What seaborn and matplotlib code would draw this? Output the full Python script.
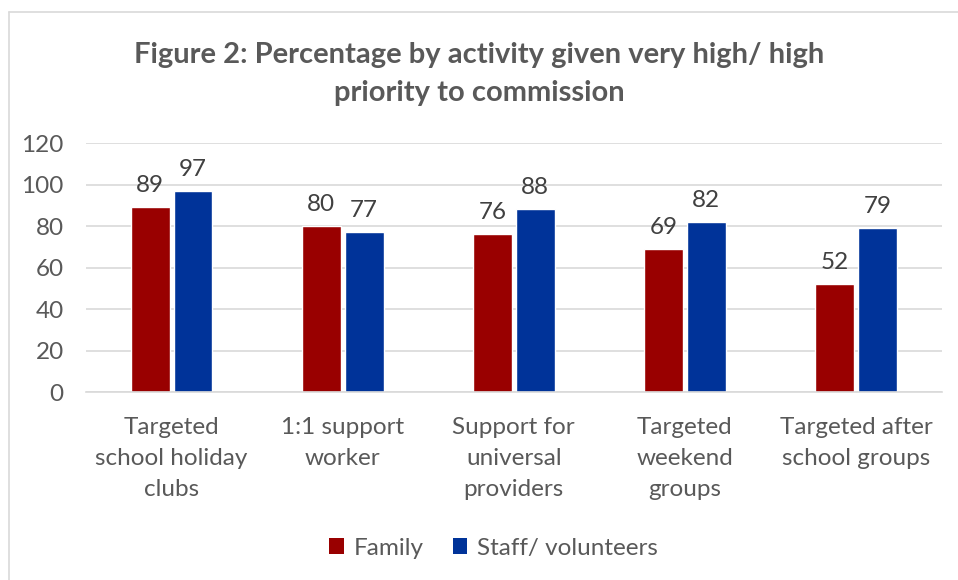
import matplotlib
matplotlib.use("Agg")
import matplotlib.pyplot as plt
from matplotlib.lines import Line2D
from matplotlib.patches import Patch
import seaborn as sns
import pandas as pd

categories = [
    "Targeted\nschool holiday\nclubs",
    "1:1 support\nworker",
    "Support for\nuniversal\nproviders",
    "Targeted\nweekend\ngroups",
    "Targeted after\nschool groups",
]
family = [89, 80, 76, 69, 52]
staff = [97, 77, 88, 82, 79]
series_names = ["Family", "Staff/ volunteers"]
colors = ["#990000", "#003399"]
title = "Figure 2: Percentage by activity given very high/ high\npriority to commission"
yticks = [0, 20, 40, 60, 80, 100, 120]

df = pd.DataFrame({
    "category": categories * 2,
    "group": [series_names[0]] * len(categories) + [series_names[1]] * len(categories),
    "value": family + staff,
})

sns.set_theme(style="white")
plt.rcParams["font.family"] = ["Lato", "DejaVu Sans"]
text_col = "#595959"
grid_col = "#d9d9d9"
fs = 17.5

fig = plt.figure(figsize=(9.58, 5.8), dpi=100)
ax = fig.add_axes([0.0898, 0.324, 0.893, 0.4294])

sns.barplot(data=df, x="category", y="value", hue="group", palette=colors,
            ax=ax, width=0.5, gap=0.09, legend=False, saturation=1)

for cont in ax.containers:
    ax.bar_label(cont, fmt="%d", padding=8, fontsize=fs, color="#404040")

ax.set_ylim(0, 120)
ax.set_yticks(yticks)
ax.set_xlim(-0.5, len(categories) - 0.5)
ax.yaxis.grid(True, color=grid_col, linewidth=1.2)
ax.set_axisbelow(True)
for s in ["top", "right", "left"]:
    ax.spines[s].set_visible(False)
ax.spines["bottom"].set_color(grid_col)
ax.spines["bottom"].set_linewidth(1.2)
ax.tick_params(axis="both", length=0, labelsize=fs, labelcolor=text_col)
ax.tick_params(axis="y", pad=16)
ax.tick_params(axis="x", pad=18)
ax.set_xlabel("")
ax.set_ylabel("")
for lbl in ax.get_xticklabels():
    lbl.set_linespacing(1.6)

fig.text(0.5, 0.872, title, ha="center", va="center", fontsize=21,
         fontweight="bold", color=text_col, linespacing=1.55)

handles = [Patch(facecolor=c, edgecolor="none") for c in colors]
fig.legend(handles, series_names, loc="center", bbox_to_anchor=(0.515, 0.055),
           ncol=2, frameon=False, fontsize=fs, labelcolor=text_col,
           handlelength=0.6, handleheight=0.6, handletextpad=0.4,
           columnspacing=1.2)

# chart frame (top and left edges)
fig.add_artist(Line2D([9 / 958, 1.0], [1 - 12 / 580] * 2, transform=fig.transFigure,
                      color=grid_col, linewidth=1.2))
fig.add_artist(Line2D([9 / 958] * 2, [0.0, 1 - 12 / 580], transform=fig.transFigure,
                      color=grid_col, linewidth=1.2))

fig.savefig("out.png", dpi=100)
